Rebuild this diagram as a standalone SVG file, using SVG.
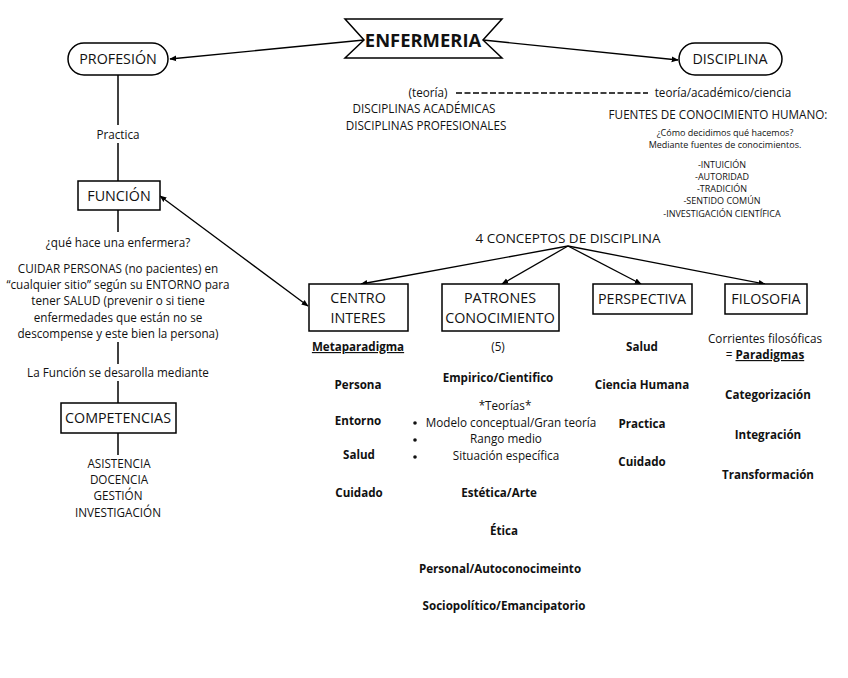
<svg xmlns="http://www.w3.org/2000/svg" width="848" height="678" viewBox="0 0 848 678">
<defs>
<marker id="ah" viewBox="0 0 10 10" refX="9" refY="5" markerWidth="7" markerHeight="7" orient="auto-start-reverse" markerUnits="userSpaceOnUse">
<path d="M0,1 L10,5 L0,9 z" fill="#000"/>
</marker>
<style>
text{font-family:"Open Sans","Noto Sans","DejaVu Sans",sans-serif;fill:#111;text-anchor:middle}
.n{font-size:14.3px}
.t{font-size:11.7px}
.s{font-size:9px}
.b{font-size:11.6px;font-weight:bold}
.box{fill:#fff;stroke:#000;stroke-width:1.5}
.ln{stroke:#000;stroke-width:1.5;fill:none}
.ar{stroke:#000;stroke-width:1.3;fill:none;marker-end:url(#ah)}
</style>
</defs>
<rect width="848" height="678" fill="#fff"/>
<g id="connectors">
<line class="ar" x1="364" y1="40" x2="170" y2="59"/>
<line class="ar" x1="483" y1="40" x2="678" y2="60"/>
<line class="ln" x1="118" y1="75" x2="118" y2="125"/>
<line class="ln" x1="118" y1="143" x2="118" y2="182"/>
<line class="ln" x1="118" y1="210" x2="118" y2="232"/>
<line class="ln" x1="118" y1="342" x2="118" y2="364"/>
<line class="ln" x1="118" y1="381" x2="118" y2="403"/>
<line class="ln" x1="118" y1="433" x2="118" y2="455"/>
<line class="ar" x1="308" y1="306" x2="160" y2="196" style="marker-start:url(#ah)"/>
<line class="ar" x1="568" y1="246" x2="361" y2="284"/>
<line class="ar" x1="568" y1="246" x2="502" y2="284"/>
<line class="ar" x1="568" y1="246" x2="641" y2="284"/>
<line class="ar" x1="568" y1="246" x2="765" y2="284"/>
<line x1="456" y1="93" x2="648" y2="93" stroke="#000" stroke-width="1.5" stroke-dasharray="6 2.5"/>
</g>
<g id="enfermeria">
<polygon class="box" points="345,19 502,19 483,40 502,58 345,58 364,40"/>
<text x="423" y="46.5" style="font-size:18.4px;font-weight:bold">ENFERMERIA</text>
</g>
<g id="profesion">
<rect class="box" x="68" y="43" width="100" height="32" rx="16"/>
<text class="n" x="118" y="64">PROFESIÓN</text>
</g>
<g id="disciplina">
<rect class="box" x="679" y="43" width="103" height="32" rx="16"/>
<text class="n" x="730" y="64">DISCIPLINA</text>
</g>
<g id="disciplina-notes">
<text class="t" x="428" y="97">(teoría)</text>
<text class="t" x="723" y="97">teoría/académico/ciencia</text>
<text class="t" x="424" y="113">DISCIPLINAS ACADÉMICAS</text>
<text class="t" x="426" y="130">DISCIPLINAS PROFESIONALES</text>
<text class="t" x="718" y="119">FUENTES DE CONOCIMIENTO HUMANO:</text>
<text class="s" x="725" y="136">¿Cómo decidimos qué hacemos?</text>
<text class="s" x="725" y="148">Mediante fuentes de conocimientos.</text>
<text class="s" x="722" y="168">-INTUICIÓN</text>
<text class="s" x="722" y="180">-AUTORIDAD</text>
<text class="s" x="722" y="192">-TRADICIÓN</text>
<text class="s" x="722" y="204">-SENTIDO COMÚN</text>
<text class="s" x="722" y="217">-INVESTIGACIÓN CIENTÍFICA</text>
</g>
<g id="practica">
<text class="t" x="118" y="139">Practica</text>
</g>
<g id="funcion">
<rect class="box" x="78" y="181" width="82" height="29"/>
<text class="n" x="119" y="201">FUNCIÓN</text>
</g>
<g id="funcion-notes">
<text class="t" x="118" y="247">¿qué hace una enfermera?</text>
<text class="t" x="118" y="273">CUIDAR PERSONAS (no pacientes) en</text>
<text class="t" x="118" y="289">“cualquier sitio” según su ENTORNO para</text>
<text class="t" x="118" y="305">tener SALUD (prevenir o si tiene</text>
<text class="t" x="118" y="322">enfermedades que están no se</text>
<text class="t" x="118" y="338">descompense y este bien la persona)</text>
<text class="t" x="118" y="377">La Función se desarolla mediante</text>
</g>
<g id="competencias">
<rect class="box" x="61" y="403" width="115" height="30"/>
<text class="n" x="118" y="423">COMPETENCIAS</text>
</g>
<g id="competencias-list">
<text class="t" x="119" y="468">ASISTENCIA</text>
<text class="t" x="119" y="484">DOCENCIA</text>
<text class="t" x="118" y="500">GESTIÓN</text>
<text class="t" x="118" y="517">INVESTIGACIÓN</text>
</g>
<g id="conceptos">
<text x="568" y="243" style="font-size:13.5px">4 CONCEPTOS DE DISCIPLINA</text>
</g>
<g id="centro-interes">
<rect class="box" x="309" y="284" width="99" height="47"/>
<text class="n" x="358" y="303">CENTRO</text>
<text class="n" x="358" y="323">INTERES</text>
</g>
<g id="centro-list">
<text class="b" x="358" y="351" text-decoration="underline">Metaparadigma</text>
<text class="b" x="358" y="389">Persona</text>
<text class="b" x="358" y="425">Entorno</text>
<text class="b" x="359" y="459">Salud</text>
<text class="b" x="359" y="497">Cuidado</text>
</g>
<g id="patrones">
<rect class="box" x="442" y="284" width="117" height="47"/>
<text class="n" x="500" y="303">PATRONES</text>
<text class="n" x="500" y="323">CONOCIMIENTO</text>
</g>
<g id="patrones-list">
<text class="t" x="498" y="351">(5)</text>
<text class="b" x="498" y="382">Empirico/Cientifico</text>
<text class="t" x="505" y="410">*Teorías*</text>
<circle cx="415" cy="423" r="1.8" fill="#111"/>
<circle cx="415" cy="440" r="1.8" fill="#111"/>
<circle cx="415" cy="457" r="1.8" fill="#111"/>
<text class="t" x="511" y="427">Modelo conceptual/Gran teoría</text>
<text class="t" x="506" y="443">Rango medio</text>
<text class="t" x="506" y="460">Situación específica</text>
<text class="b" x="499" y="497">Estética/Arte</text>
<text class="b" x="504" y="535">Ética</text>
<text class="b" x="500" y="573">Personal/Autoconocimeinto</text>
<text class="b" x="504" y="610">Sociopolítico/Emancipatorio</text>
</g>
<g id="perspectiva">
<rect class="box" x="593" y="284" width="99" height="30"/>
<text class="n" x="642" y="304">PERSPECTIVA</text>
</g>
<g id="perspectiva-list">
<text class="b" x="642" y="351">Salud</text>
<text class="b" x="642" y="389">Ciencia Humana</text>
<text class="b" x="642" y="428">Practica</text>
<text class="b" x="642" y="466">Cuidado</text>
</g>
<g id="filosofia">
<rect class="box" x="725" y="284" width="82" height="30"/>
<text class="n" x="766" y="304">FILOSOFIA</text>
</g>
<g id="filosofia-list">
<text class="t" x="765" y="343">Corrientes filosóficas</text>
<text class="t" x="765" y="359">= <tspan font-weight="bold" text-decoration="underline">Paradigmas</tspan></text>
<text class="b" x="768" y="399">Categorización</text>
<text class="b" x="768" y="439">Integración</text>
<text class="b" x="768" y="479">Transformación</text>
</g>
</svg>
